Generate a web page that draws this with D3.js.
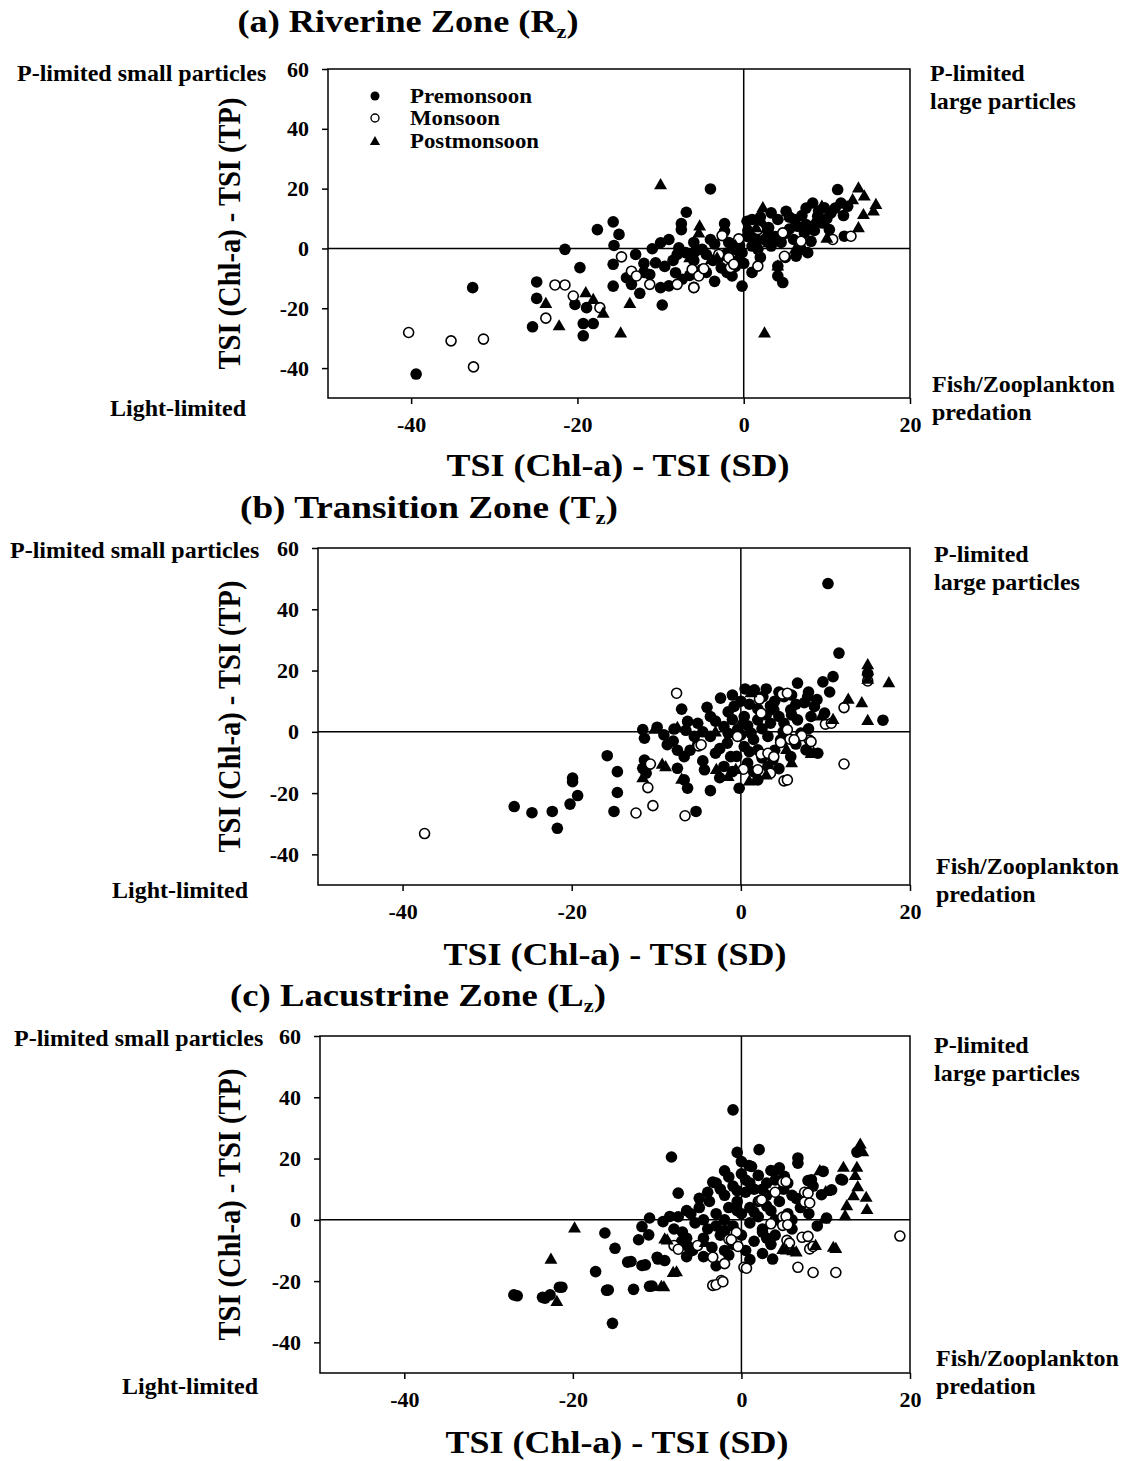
<!DOCTYPE html>
<html><head><meta charset="utf-8">
<script src="https://cdn.jsdelivr.net/npm/d3@7"></script>
<style>
html,body{margin:0;padding:0;background:#fff;}
text{font-family:"Liberation Serif","Times New Roman",serif;font-weight:bold;fill:#000;}
</style></head>
<body><svg id="chart" width="1122" height="1461"></svg>
<script>
// ---------------- DATA ----------------
const seasons = ["Premonsoon", "Monsoon", "Postmonsoon"];
const xTicks = [-40, -20, 0, 20];
const yTicks = [-40, -20, 0, 20, 40, 60];
const xDomain = [-50, 20];
const yDomain = [-50, 60];
const panelTitles = ["(a) Riverine Zone (R", "(b) Transition Zone (T", "(c) Lacustrine Zone (L"];
const panelSubs = ["z", "z", "z"];
const xTitle = "TSI (Chl-a) - TSI (SD)";
const yTitle = "TSI (Chl-a) - TSI (TP)";
const quadrantLabels = ["P-limited small particles", "Light-limited", "P-limited", "large particles", "Fish/Zooplankton", "predation"];

const riverinePre = [[-39.4,-42],[-32.6,-13.1],[-24.9,-11.2],[-24.9,-16.7],[-25.4,-26.2],[-21.5,-0.3],[-19.7,-6.4],[-20.3,-18.7],[-18.9,-19.8],[-19.3,-25.1],[-18.1,-25.1],[-19.3,-29.2],[-17.6,6.3],[-15.7,8.9],[-15,4.7],[-15.6,1],[-15.7,-5.3],[-14.1,-9.8],[-13.5,-12],[-15.7,-12.6],[-4,19.9],[-6.9,12.1],[-7.5,8.3],[-7.5,6.3],[-2.3,8.3],[-2.3,5.8],[-11,-0.1],[-10,1.9],[-9,3],[-7.8,0.2],[-7,-1.4],[-5.8,-0.9],[-5,-0.3],[-10.6,-4.8],[-11.3,-8.7],[-10,-13.1],[-9.8,-18.9],[-8.2,-8.1],[-7.4,-10.3],[-3.7,-4],[-2.7,-6.5],[-1.4,-9.2],[-0.2,-12.6],[-1,-0.3],[-0.2,-1.4],[-0.6,-3.7],[1,9.7],[2.1,8],[1.3,4.1],[2.5,3],[3.3,0.8],[1,0.8],[1.7,-0.3],[2.9,5.8],[4.1,9.7],[5.1,12.4],[6.1,9.7],[6.5,7.4],[7.3,5.2],[8.3,15.2],[8.9,10.8],[9.7,13.6],[10.5,11.9],[11.3,19.7],[11.7,15.2],[12.5,14.1],[8.1,2.4],[6.9,-0.3],[7.7,-1.4],[6.3,-2.6],[4.1,-5.9],[4.1,-9.2],[4.7,-11.4],[3.3,11.9],[10.3,6.3],[12.1,4.1],[0.4,9.1],[0.4,4],[-4.5,-2],[-3,-3],[-6,-4],[-4.5,-8],[-8.5,-4],[-12,-5],[-1.8,2],[5,5],[3.5,2.5],[-3.5,1.5],[-9,-12.5],[-6,-13],[-5,-7],[-2,-8],[-12.5,-15],[0.5,6],[1.5,2],[2,10.5],[3,7],[3.8,4],[4.5,2],[5.5,6.5],[6,3],[7,11],[7.5,8],[8.5,6],[9.5,8.5],[10,10],[9,12.5],[11,13.5],[12,11],[7.5,13.5],[5.5,10.5],[-0.5,1],[0,-5],[2,-3],[-2,-1.5],[-4,3],[-6,2],[-8,-2],[-9.5,-6],[-6.5,-9],[-3.5,-11],[-1,-6],[-13,-2],[-12,-8],[1,-8],[5,-3]];
const riverineMon = [[-40.3,-28.1],[-35.2,-30.9],[-31.3,-30.3],[-32.5,-39.6],[-22.7,-12.2],[-21.5,-12.2],[-23.8,-23.3],[-20.5,-15.9],[-17.3,-19.8],[-14.7,-2.8],[-13.5,-7.6],[-12.9,-9.2],[-6.2,-7],[-5.4,-9.2],[-6,-13.1],[-4.8,-6.8],[-11.3,-12],[-1.8,-3.1],[-1.6,-6.4],[-1.2,-5.3],[1.7,-5.9],[-2.6,4.3],[-0.6,3.2],[10.7,3],[12.9,4.1],[4.9,-2.6],[1.7,6.3],[4.7,5.2],[6.9,2.4],[-8,-12],[-3,-2]];
const riverinePost = [[-23.8,-18.3],[-22.2,-25.8],[-19,-14.7],[-18.1,-17],[-16.9,-21.6],[-14.8,-28.2],[-13.7,-18.3],[-10,21.4],[-5.3,7.6],[-5.4,5.2],[-3.9,-3.6],[2.3,13.7],[2.5,-28.2],[13.8,20.3],[14.5,17.6],[13.1,16.4],[15.9,14.8],[15.6,12.6],[14.4,11.4],[13.8,7],[4.1,-5.8],[6.2,-0.2],[9.4,14.2],[-3.2,-3.1],[1.5,7],[3,2],[5.5,11],[8.5,9],[10,3.5],[-1,1],[-6.5,-3]];

const transitionPre = [[-26.8,-24.4],[-24.7,-26.4],[-22.3,-26],[-21.7,-31.5],[-20.2,-23.6],[-19.3,-20.8],[-19.9,-15.1],[-19.9,-16.3],[-15.8,-7.8],[-14.6,-13],[-14.6,-19.8],[-15,-26],[-11.4,-9.2],[-11.6,-11.9],[-10.9,-10.8],[-11.2,-13.5],[-7.5,-11.9],[-6.7,-8.1],[-6.7,-15.7],[-6.3,-18.4],[-5.3,-26],[-7,7.4],[-6.3,3.4],[-11.6,0.7],[-11.4,-2.1],[-9.9,1.5],[-9.1,-1],[-8.7,-4.2],[-7.9,0.9],[10.3,48.4],[11.6,25.7],[16.8,3.8],[10.9,18],[9.7,16.3],[15,19],[-2.4,11],[-3.6,5],[-0.8,8.3],[1.6,13.7],[2.6,11.5],[6.7,15.9],[5.1,11.5],[7.9,11.5],[8.7,8.3],[9.9,6.1],[3.9,7.2],[5.9,7.2],[0.4,5],[2,3.9],[3.5,2.8],[5.1,2.8],[6.7,3.9],[-5.1,2.8],[-2,1.7],[-0.4,0.7],[1.2,-0.4],[3.2,-1.5],[4.7,-2.6],[-3.6,-1.5],[-1.6,-3.7],[0.4,-4.8],[2,-5.9],[-1.2,-8.1],[0.8,-10.2],[3.2,-11.3],[-4.3,-12.4],[-2,-11.3],[-0.2,-18.4],[2,-15.7],[-3.6,-19.2],[-5.1,-4.2],[8.3,5],[7.1,-0.4],[5.9,-8.1],[9.1,-7],[7.7,-5.9],[-4,8],[-1,4],[1,9],[4,10],[-6,-6],[-3,-7],[0,-1],[2.5,1],[4.5,5],[6.5,9],[8,13],[-2.5,-15],[1.5,-13],[3.8,-9],[-8,-3],[-4.5,-9.5],[-1,12],[0.5,14],[3,14],[4.5,13],[6,12],[7.5,9.5],[9,10.5],[10.5,13],[-1.5,6.5],[0,10],[2,7.5],[3,5.5],[5,0],[6,5.5],[8,1],[-4.5,0],[-2.5,-5.5],[-1,-13],[1.5,-2.5],[4,-6],[6.5,-4],[-6.5,0.5],[-5.5,-1.5],[-3,3.5],[0.8,2],[-0.5,-8],[2.5,-8.5],[4.5,-12],[-7.5,-6],[1,-6.5],[-1.5,-0.5],[3.5,8.5]];
const transitionMon = [[-37.4,-33.2],[-12.4,-26.5],[-10.4,-24.1],[-11,-18.2],[-6.6,-27.4],[-7.6,12.6],[12.2,-10.5],[12.2,7.9],[5.1,-16],[8.1,-2.7],[5.8,-2.4],[3.5,-13.3],[-5,-4.6],[2.2,10.7],[10,2.5],[2.4,-7.3],[0.3,-12.2],[4.7,-3.5],[7.2,-1.3],[4.9,12.3],[15,16.6],[-4.7,-4.2],[3.2,-7],[2,-12.4],[3.5,-13.5],[-0.4,-1.5],[5.5,0.7],[2.4,6.1],[5.5,12.6],[10.7,2.8],[5.5,-15.7],[8.3,-3.2],[6.3,-2.6],[3.9,-8.1],[-10.7,-10.5]];
const transitionPost = [[15,22],[15,20],[15,17.2],[17.5,16.1],[12.7,10.7],[14.3,9.6],[15,3.8],[10.9,4.1],[8.6,-6.7],[1,-16],[1.2,12.8],[-7,-15.4],[-9.3,-10.5],[-11.6,-14.9],[-10.2,0.9],[-2.9,-12.2],[5.4,-5.7],[9.5,5.2],[-0.6,-12.2],[-8.9,-11.3],[8.3,-7],[6,-10],[-1.5,-14.5],[3,-14],[-3,0],[0,3],[-7.5,1.5]];

const lacustrinePre = [[-26.6,-24.8],[-23.3,-25.6],[-22.7,-24.5],[-21.3,-22],[-16.2,-4.3],[-17.3,-16.9],[-15.8,-22.9],[-15.3,-33.8],[-15,-9.3],[-12.8,-22.7],[-13.1,-13.6],[-11.4,-14.7],[-10.6,-21.6],[-9.9,-12.8],[-9.1,-13.3],[-12.2,-6.5],[-11,-4.9],[-11.8,-2.2],[-10.9,0.6],[-9.3,-0.6],[-8.5,1.1],[-8.3,20.5],[-7.5,8.7],[-3,12],[-7.1,-7.1],[-6.3,-8.7],[-1,35.9],[-0.5,22],[2.1,22.9],[1.2,17.4],[6.7,20.2],[6.7,18.5],[12,13],[9.7,15.8],[8.3,13.1],[9.5,8.2],[10.7,9.8],[10.1,0.6],[3.7,-12.8],[3.9,15.8],[5.1,14.2],[13.7,22.1],[11.8,13.2],[7.9,12.8],[0.9,17.7],[-3.4,12.3],[3.5,16.1],[-16,-23],[-13.5,-13.8],[-11.8,-14.9],[-10.9,-21.7],[-10,-12.2],[-27,-24.5],[-23.6,-25.3],[-21.6,-22],[-6,2],[-5.5,-1],[-5,4],[-4.5,0],[-4,-3],[-3.8,6],[-3,2],[-3,-2],[-2.5,-5],[-2,8],[-2,0],[-1.5,4],[-1,-2],[-1,11],[-0.5,6],[0,2],[0,-5],[0.5,9],[0.5,13],[1,4],[1,-1],[1.5,10],[2,6],[2,1],[2.5,-3],[3,8],[3,12],[3.5,3],[4,-5],[4.5,6],[5,10],[5.5,2],[6,-3],[6.5,7],[-6.5,-6],[-5.8,-10],[-4.5,-12],[-3.5,-9],[-2,-10],[-1,-8],[0.5,-10],[1.5,-7],[2.5,-11],[3.5,-8],[-7,-4],[-7.5,1],[-6.5,3],[-1.5,14],[0,15],[2,14.5],[-4,9],[-2.5,10],[-0.5,9.5],[1,12],[2.5,10],[4,13],[5.5,12],[6,8],[7,4],[8.5,11],[-5,7],[-4.5,-6],[-3,-15],[-1.5,-11.5],[1,-13],[3,-6],[4,0],[6,0],[8,2],[9,-2],[-0.5,3],[1.5,2.5],[3,4.5],[-2,-3.5],[2.5,-4],[-8,-3],[-6.5,-12],[0,19],[-2,16],[4.5,17]];
const lacustrineMon = [[18.8,-5.3],[6.7,-15.5],[8.5,-17.2],[11.2,-17.2],[-3.4,-21.4],[-2.4,-19.8],[0.3,-15.5],[-2,-14.3],[-8,-8.4],[4.9,12.3],[2.2,6.3],[7.5,9],[7.5,5.8],[4.9,0.9],[4.9,-1.8],[7.2,-5.7],[8.1,-9.5],[5.4,-6.7],[-3.4,-12.2],[-1.5,-6.3],[-0.6,-4.1],[4,9],[-5.2,-8.4],[3.5,-1.3],[-7.5,-9.6],[-3,-21.2],[-2.2,-20.2],[5.3,12.5],[7.9,8.7],[8.1,5.5],[5.3,1.1],[5.5,-1.6],[5.7,-7.6],[2.4,6.5],[-1.2,-6.5],[-0.4,-8.7],[0.6,-15.8],[7.9,-5.4],[8.5,-8.7]];
const lacustrinePost = [[-19.8,-2.6],[-22.6,-12.8],[-21.9,-26.6],[-9.5,-21.7],[-8.1,-17.1],[-9.1,-6.2],[14.1,24.8],[14.4,22.3],[13.7,17.2],[12.1,17.2],[13.5,14.5],[13.8,10.9],[13.3,7.9],[14.8,7.4],[12.5,4.7],[14.9,3.4],[12.3,1.4],[10.9,-8.9],[8.8,-8.3],[6.1,-10],[4.9,-9.6],[9.8,0.3],[10,9.3],[9.3,16.1],[-4.3,-7.3],[11.2,-9.3],[6.5,-10.4],[5.3,-9.8],[-8.8,-6.5],[-7.7,-16.9],[-9.2,-21.8]];

// ---------------- LAYOUT ----------------
const panels = [
  {pre: riverinePre, mon: riverineMon, post: riverinePost, left: 328, right: 910, top: 69, bottom: 398,
   titleX: 408, titleY: 32, titleW: 341, xTitleX: 618, xTitleY: 476, yTitleX: 240,
   tl: [17, 81], bl: [110, 416], tr: [930, 81, 109], br: [932, 392, 420], legend: true},
  {pre: transitionPre, mon: transitionMon, post: transitionPost, left: 318, right: 910, top: 548, bottom: 885,
   titleX: 429, titleY: 518, titleW: 378, xTitleX: 615, xTitleY: 965, yTitleX: 240,
   tl: [10, 558], bl: [112, 898], tr: [934, 562, 590], br: [936, 874, 902], legend: false},
  {pre: lacustrinePre, mon: lacustrineMon, post: lacustrinePost, left: 320, right: 910, top: 1036, bottom: 1373,
   titleX: 418, titleY: 1006, titleW: 376, xTitleX: 617, xTitleY: 1453, yTitleX: 240,
   tl: [14, 1046], bl: [122, 1394], tr: [934, 1053, 1081], br: [936, 1366, 1394], legend: false}
];

const svg = d3.select("#chart");
const triSym = d3.symbol().type(d3.symbolTriangle).size(72);
const triSmall = d3.symbol().type(d3.symbolTriangle).size(45);

panels.forEach((p, i) => {
  const g = svg.append("g");
  const x = d3.scaleLinear().domain(xDomain).range([p.left, p.right]);
  const y = d3.scaleLinear().domain(yDomain).range([p.bottom, p.top]);

  g.append("rect").attr("x", p.left).attr("y", p.top)
    .attr("width", p.right - p.left).attr("height", p.bottom - p.top)
    .attr("fill", "none").attr("stroke", "#000").attr("stroke-width", 1.5);
  g.append("line").attr("x1", p.left).attr("x2", p.right).attr("y1", y(0)).attr("y2", y(0))
    .attr("stroke", "#000").attr("stroke-width", 1.5);
  g.append("line").attr("x1", x(0)).attr("x2", x(0)).attr("y1", p.top).attr("y2", p.bottom)
    .attr("stroke", "#000").attr("stroke-width", 1.5);

  const fmt = d => String(d);
  const ax = g.append("g").attr("transform", `translate(0,${p.bottom})`)
    .call(d3.axisBottom(x).tickValues(xTicks).tickSize(6).tickPadding(12).tickFormat(fmt));
  const ay = g.append("g").attr("transform", `translate(${p.left},0)`)
    .call(d3.axisLeft(y).tickValues(yTicks).tickSize(6).tickPadding(13).tickFormat(fmt));
  [ax, ay].forEach(a => {
    a.select(".domain").remove();
    a.selectAll(".tick line").attr("stroke", "#000").attr("stroke-width", 1.5);
    a.selectAll(".tick text").style("font-family", "'Liberation Serif', serif")
      .style("font-weight", "bold").style("font-size", "22px").attr("fill", "#000");
  });
  ax.selectAll(".tick text").attr("dy", "0.71em");

  g.append("g").selectAll("circle").data(p.pre).join("circle")
    .attr("cx", d => x(d[0])).attr("cy", d => y(d[1])).attr("r", 5.8).attr("fill", "#000");
  g.append("g").selectAll("circle").data(p.mon).join("circle")
    .attr("cx", d => x(d[0])).attr("cy", d => y(d[1])).attr("r", 5)
    .attr("fill", "#fff").attr("stroke", "#000").attr("stroke-width", 1.6);
  g.append("g").selectAll("path").data(p.post).join("path")
    .attr("d", triSym).attr("transform", d => `translate(${x(d[0])},${y(d[1]) + 1})`).attr("fill", "#000");

  const t = g.append("text").attr("x", p.titleX).attr("y", p.titleY).attr("text-anchor", "middle")
    .style("font-size", "31px").attr("textLength", p.titleW).attr("lengthAdjust", "spacingAndGlyphs");
  t.append("tspan").text(panelTitles[i]);
  t.append("tspan").text(panelSubs[i]).attr("dy", 6).style("font-size", "19px");
  t.append("tspan").text(")").attr("dy", -6);

  g.append("text").attr("x", p.xTitleX).attr("y", p.xTitleY).attr("text-anchor", "middle")
    .style("font-size", "32px").attr("textLength", 343).attr("lengthAdjust", "spacingAndGlyphs").text(xTitle);
  g.append("text").attr("transform", `translate(${p.yTitleX},${(p.top + p.bottom) / 2}) rotate(-90)`)
    .attr("text-anchor", "middle").style("font-size", "31px")
    .attr("textLength", 272).attr("lengthAdjust", "spacingAndGlyphs").text(yTitle);

  const q = (txt, xx, yy) => g.append("text").attr("x", xx).attr("y", yy).style("font-size", "24px").text(txt);
  q(quadrantLabels[0], p.tl[0], p.tl[1]);
  q(quadrantLabels[1], p.bl[0], p.bl[1]);
  q(quadrantLabels[2], p.tr[0], p.tr[1]);
  q(quadrantLabels[3], p.tr[0], p.tr[2]);
  q(quadrantLabels[4], p.br[0], p.br[1]);
  q(quadrantLabels[5], p.br[0], p.br[2]);

  if (p.legend) {
    const lg = g.append("g");
    const rows = [96, 118, 141];
    seasons.forEach((s, k) => {
      const cy = rows[k];
      if (k === 0) lg.append("circle").attr("cx", 375).attr("cy", cy).attr("r", 4.5).attr("fill", "#000");
      if (k === 1) lg.append("circle").attr("cx", 375).attr("cy", cy).attr("r", 4)
        .attr("fill", "#fff").attr("stroke", "#000").attr("stroke-width", 1.4);
      if (k === 2) lg.append("path").attr("d", triSmall).attr("transform", `translate(375,${cy + 1})`).attr("fill", "#000");
      lg.append("text").attr("x", 410).attr("y", cy + 7).style("font-size", "21px")
        .attr("textLength", [122, 90, 129][k]).attr("lengthAdjust", "spacingAndGlyphs").text(s);
    });
  }
});
</script></body></html>
